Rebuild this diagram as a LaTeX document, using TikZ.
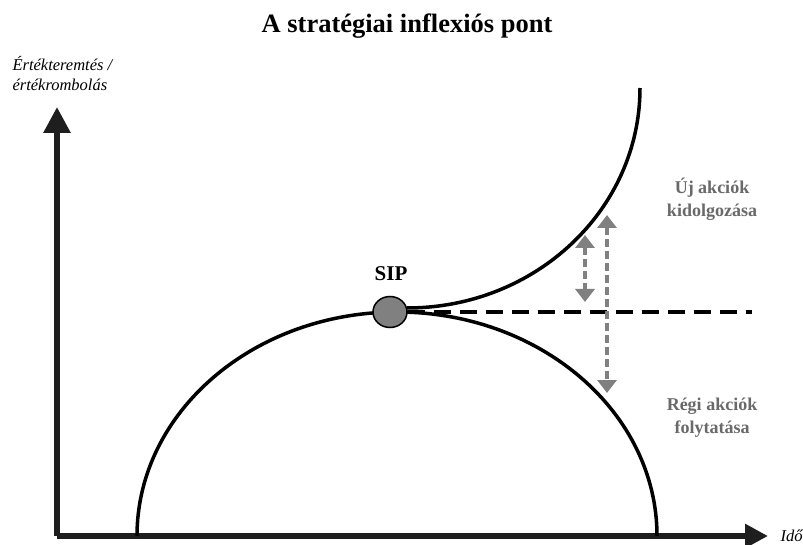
\documentclass[tikz,border=0pt]{standalone}
\usepackage{fontspec}
\setmainfont{Liberation Serif}
\usetikzlibrary{arrows.meta,shapes.geometric}
\definecolor{lbl}{RGB}{105,105,105}
\definecolor{arr}{RGB}{128,128,128}
\definecolor{axis}{RGB}{30,30,30}
\tikzset{
  axisline/.style={line width=6pt, draw=axis},
  curve/.style={line width=3.5pt, black},
  dline/.style={line width=3pt, black, dash pattern=on 17pt off 9pt},
  garrow/.style={line width=4pt, draw=arr, dash pattern=on 8pt off 4pt,
     {Triangle[length=13pt,width=19pt,fill=arr]}-{Triangle[length=13pt,width=19pt,fill=arr]}, shorten <=0pt, shorten >=0pt},
  glabel/.style={text=lbl, font=\fontsize{18}{23}\selectfont\bfseries, align=center},
}
\begin{document}
\begin{tikzpicture}[x=1pt,y=-1pt]
\useasboundingbox (0,0) rectangle (803,545);
% title
\node[font=\fontsize{26.5}{30}\selectfont\bfseries, anchor=base] (title) at (407,33) {A stratégiai inflexiós pont};
% axes
\coordinate (O) at (57,536);
\coordinate (ytop) at (57,107);
\coordinate (xend) at (768,536);
\draw[axisline, -{Triangle[length=26pt,width=26pt,fill=axis]}] (O) -- (ytop);
\draw[axisline, -{Triangle[length=23pt,width=23pt,fill=axis]}] (O) -- (xend);
\node[font=\fontsize{16.5}{20}\selectfont\itshape, align=left, anchor=west] (ylab) at (9,74) {Értékteremtés /\\értékrombolás};
\node[font=\fontsize{16.5}{20}\selectfont\itshape, anchor=west] (xlab) at (777,536) {Idő};
% curves
\coordinate (lstart) at (137,536);
\draw[curve] (lstart) arc[start angle=180, end angle=0, x radius=260pt, y radius=224pt];
\coordinate (ustart) at (407,308);
\draw[curve] (ustart) arc[start angle=270, end angle=360, x radius=233pt, y radius=220pt];
% SIP
\node[ellipse, draw=black, line width=1.5pt, fill=arr, minimum width=34pt, minimum height=31pt, inner sep=0pt] (sip) at (390,312) {};
\coordinate (dend) at (752,312);
\draw[dline] (sip.east) -- (dend);
\node[font=\fontsize{21}{24}\selectfont\bfseries, anchor=base] (siplab) at (391,280) {SIP};
% gray arrows
\coordinate (a1t) at (585,235);
\coordinate (a1b) at (585,302);
\coordinate (a2t) at (607,215);
\coordinate (a2b) at (607,393);
\draw[garrow] (a1t) -- (a1b);
\draw[garrow] (a2t) -- (a2b);
% labels
\node[glabel] (uj) at (712,199) {Új akciók\\kidolgozása};
\node[glabel] (regi) at (712,418) {Régi akciók\\folytatása};
\end{tikzpicture}
\end{document}
